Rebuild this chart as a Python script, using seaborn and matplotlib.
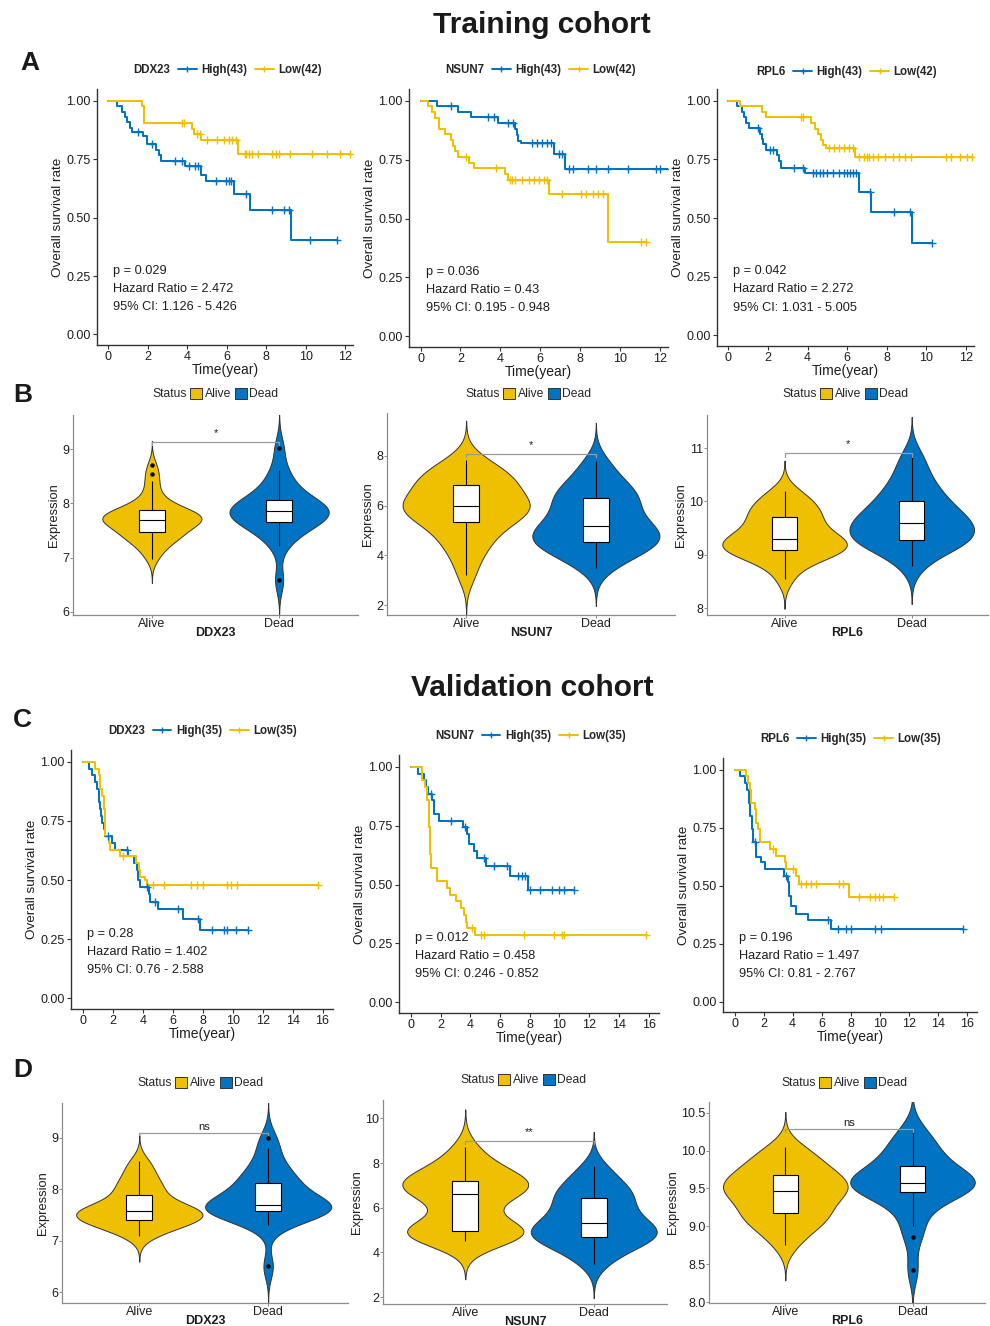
import numpy as np
import pandas as pd
import matplotlib
matplotlib.use("Agg")
import matplotlib.pyplot as plt
import seaborn as sns
from matplotlib.lines import Line2D
from matplotlib.patches import Patch

# ---------------- DATA ----------------
genes = ["DDX23", "NSUN7", "RPL6"]
train_n = (43, 42)
valid_n = (35, 35)

# Training cohort KM (event times, survival after event, censor times)
A_DDX23_hi_t = [0.42, 0.67, 0.84, 0.95, 1.09, 1.2, 1.76, 1.93, 2.43, 2.57, 2.68, 3.86, 4.7, 4.95, 6.37, 7.16, 9.26]
A_DDX23_hi_s = [0.977, 0.953, 0.93, 0.907, 0.884, 0.867, 0.85, 0.815, 0.79, 0.767, 0.744, 0.72, 0.684, 0.655, 0.603, 0.534, 0.403]
A_DDX23_hi_c = [1.5, 2.2, 3.36, 3.74, 4.1, 4.4, 4.55, 5.45, 5.95, 6.1, 6.2, 6.96, 8.3, 8.9, 9.15, 10.2, 11.6]
A_DDX23_lo_t = [1.68, 1.8, 4.24, 4.36, 4.7, 6.58]
A_DDX23_lo_s = [0.976, 0.905, 0.881, 0.857, 0.83, 0.774]
A_DDX23_lo_c = [3.74, 3.82, 4.5, 4.62, 5.0, 5.5, 5.85, 6.1, 6.25, 6.45, 6.9, 7.0, 7.15, 7.3, 7.6, 8.3, 8.5, 8.65, 9.2, 10.3, 11.1, 11.75, 12.25]

A_NSUN7_hi_t = [0.82, 1.89, 2.52, 3.88, 4.73, 4.82, 4.9, 5.04, 6.69, 7.25]
A_NSUN7_hi_s = [0.977, 0.953, 0.93, 0.905, 0.88, 0.855, 0.83, 0.82, 0.775, 0.71]
A_NSUN7_hi_c = [1.5, 3.37, 3.7, 4.4, 4.65, 5.6, 5.85, 6.1, 6.35, 6.52, 6.95, 7.1, 7.45, 7.65, 8.4, 8.8, 9.4, 10.4, 11.8, 12.0, 12.5]
A_NSUN7_lo_t = [0.39, 0.56, 0.7, 0.94, 1.24, 1.53, 1.63, 1.75, 1.89, 2.43, 2.69, 4.25, 4.4, 6.43, 9.38]
A_NSUN7_lo_s = [0.976, 0.952, 0.929, 0.881, 0.857, 0.833, 0.81, 0.786, 0.762, 0.738, 0.714, 0.69, 0.665, 0.605, 0.40]
A_NSUN7_lo_c = [2.26, 3.8, 4.5, 4.6, 4.75, 5.1, 5.45, 5.7, 5.95, 6.2, 6.35, 7.1, 8.05, 8.3, 8.65, 8.9, 9.15, 11.03, 11.3]

A_RPL6_hi_t = [0.43, 0.68, 0.8, 0.9, 1.02, 1.59, 1.68, 1.76, 1.88, 2.44, 2.56, 2.65, 3.87, 6.6, 7.22, 9.27]
A_RPL6_hi_s = [0.977, 0.953, 0.93, 0.907, 0.884, 0.86, 0.837, 0.814, 0.79, 0.767, 0.744, 0.713, 0.69, 0.61, 0.525, 0.395]
A_RPL6_hi_c = [1.48, 2.1, 2.27, 3.33, 3.75, 4.25, 4.4, 4.6, 4.75, 5.0, 5.3, 5.6, 5.85, 6.0, 6.15, 6.3, 6.45, 7.17, 8.35, 9.15, 10.3]
A_RPL6_lo_t = [0.6, 1.7, 1.88, 4.18, 4.35, 4.52, 4.66, 4.78, 4.9, 6.4]
A_RPL6_lo_s = [0.976, 0.952, 0.929, 0.905, 0.881, 0.857, 0.833, 0.81, 0.797, 0.76]
A_RPL6_lo_c = [3.67, 3.75, 5.1, 5.35, 5.6, 5.85, 6.1, 6.3, 6.6, 6.85, 7.0, 7.1, 7.3, 7.55, 7.9, 8.3, 8.6, 8.9, 9.2, 11.0, 11.25, 11.7, 12.05, 12.3]

# Validation cohort KM
C_DDX23_hi_t = [0.38, 0.6, 0.82, 0.93, 1.04, 1.1, 1.16, 1.22, 1.27, 1.38, 1.44, 1.93, 2.16, 3.0, 3.38, 3.6, 3.67, 3.78, 4.38, 4.49, 5.0, 6.67, 7.82]
C_DDX23_hi_s = [0.971, 0.943, 0.914, 0.886, 0.857, 0.829, 0.80, 0.771, 0.743, 0.714, 0.686, 0.657, 0.629, 0.60, 0.571, 0.543, 0.50, 0.471, 0.44, 0.409, 0.377, 0.335, 0.29]
C_DDX23_hi_c = [1.7, 2.93, 4.27, 4.78, 6.38, 7.7, 8.6, 9.4, 9.6, 10.2, 11.05]
C_DDX23_lo_t = [0.82, 1.04, 1.16, 1.27, 1.38, 1.49, 1.71, 1.78, 2.44, 3.56, 3.71, 3.82, 4.11, 4.27]
C_DDX23_lo_s = [0.971, 0.943, 0.886, 0.857, 0.80, 0.686, 0.657, 0.629, 0.60, 0.571, 0.543, 0.514, 0.50, 0.478]
C_DDX23_lo_c = [2.7, 4.7, 5.4, 7.2, 7.6, 8.0, 9.6, 9.9, 10.3, 15.7]

C_NSUN7_hi_t = [0.45, 0.85, 1.0, 1.16, 1.45, 1.57, 1.9, 3.53, 3.76, 3.9, 4.25, 4.47, 5.08, 6.7, 7.87]
C_NSUN7_hi_s = [0.971, 0.943, 0.914, 0.886, 0.857, 0.80, 0.771, 0.743, 0.714, 0.671, 0.643, 0.614, 0.578, 0.535, 0.478]
C_NSUN7_hi_c = [1.34, 2.7, 3.65, 4.92, 5.6, 6.5, 7.2, 7.5, 7.7, 8.0, 8.7, 9.5, 9.95, 10.3, 11.0]
C_NSUN7_lo_t = [0.78, 0.95, 1.1, 1.2, 1.28, 1.35, 1.79, 2.4, 2.6, 3.02, 3.38, 3.55, 3.69, 3.8, 4.3]
C_NSUN7_lo_s = [0.943, 0.914, 0.857, 0.743, 0.629, 0.571, 0.514, 0.486, 0.457, 0.429, 0.40, 0.371, 0.343, 0.314, 0.286]
C_NSUN7_lo_c = [4.14, 4.7, 4.9, 7.6, 9.6, 10.15, 10.3, 15.8]

C_RPL6_hi_t = [0.34, 0.69, 0.85, 0.99, 1.08, 1.17, 1.26, 1.5, 1.84, 2.07, 3.4, 3.67, 3.74, 3.86, 4.2, 5.05, 6.66]
C_RPL6_hi_s = [0.971, 0.943, 0.914, 0.857, 0.80, 0.743, 0.686, 0.625, 0.60, 0.571, 0.543, 0.514, 0.457, 0.41, 0.377, 0.35, 0.314]
C_RPL6_hi_c = [1.38, 3.56, 6.43, 7.1, 7.65, 8.0, 9.65, 10.1, 15.75]
C_RPL6_lo_t = [0.76, 0.92, 1.03, 1.15, 1.38, 1.49, 1.6, 1.72, 2.41, 2.82, 3.44, 3.56, 4.25, 4.43, 7.85]
C_RPL6_lo_s = [0.971, 0.943, 0.914, 0.857, 0.829, 0.771, 0.743, 0.686, 0.657, 0.629, 0.60, 0.571, 0.543, 0.505, 0.45]
C_RPL6_lo_c = [2.64, 4.0, 4.6, 4.95, 5.25, 5.6, 7.2, 7.45, 8.6, 9.3, 9.65, 9.95, 10.25, 11.0]

# KM statistics text
A_stats = [("0.029", "2.472", "1.126 - 5.426"), ("0.036", "0.43", "0.195 - 0.948"), ("0.042", "2.272", "1.031 - 5.005")]
C_stats = [("0.28", "1.402", "0.76 - 2.588"), ("0.012", "0.458", "0.246 - 0.852"), ("0.196", "1.497", "0.81 - 2.767")]

# Expression samples (Alive / Dead)
B_DDX23_alive = [6.98, 7.1, 7.18, 7.25, 7.3, 7.34, 7.38, 7.41, 7.43, 7.45, 7.47, 7.5, 7.54, 7.58, 7.62, 7.65, 7.67, 7.68, 7.69, 7.7,
                 7.7, 7.71, 7.72, 7.74, 7.76, 7.78, 7.8, 7.82, 7.84, 7.87, 7.88, 7.9, 7.94, 7.99, 8.06, 8.15, 8.28, 8.42, 8.55, 8.7]
B_DDX23_dead = [6.58, 7.22, 7.4, 7.5, 7.58, 7.64, 7.68, 7.72, 7.76, 7.8, 7.83, 7.86, 7.88, 7.9, 7.94, 7.98, 8.04, 8.1, 8.18, 8.3, 8.45, 8.62, 9.02]
B_NSUN7_alive = [3.2, 3.9, 4.3, 4.6, 4.9, 5.1, 5.35, 5.45, 5.6, 5.75, 5.85, 5.95, 6.0, 6.05, 6.15, 6.3, 6.5, 6.7, 6.85, 6.95, 7.05, 7.2, 7.4, 7.6, 7.85]
B_NSUN7_dead = [3.5, 3.85, 4.05, 4.2, 4.35, 4.45, 4.55, 4.65, 4.75, 4.85, 4.95, 5.08, 5.2, 5.35, 5.5, 5.7, 5.9, 6.1, 6.3, 6.4, 6.55, 6.75, 7.0, 7.35, 7.8]
B_RPL6_alive = [8.55, 8.8, 8.9, 8.97, 9.02, 9.06, 9.09, 9.12, 9.16, 9.2, 9.24, 9.27, 9.3, 9.35, 9.4, 9.47, 9.55, 9.62, 9.7, 9.76, 9.83, 9.9, 9.98, 10.08, 10.2]
B_RPL6_dead = [8.78, 9.0, 9.1, 9.18, 9.23, 9.26, 9.28, 9.33, 9.4, 9.46, 9.51, 9.56, 9.6, 9.65, 9.7, 9.76, 9.83, 9.9, 10.0, 10.08, 10.18, 10.3, 10.45, 10.65, 10.88]
D_DDX23_alive = [7.1, 7.2, 7.27, 7.32, 7.36, 7.38, 7.4, 7.44, 7.48, 7.51, 7.54, 7.56, 7.58, 7.6, 7.63, 7.67, 7.72, 7.8, 7.9, 7.98, 8.05, 8.15, 8.25, 8.4, 8.55]
D_DDX23_dead = [6.5, 7.3, 7.42, 7.5, 7.54, 7.56, 7.58, 7.61, 7.63, 7.65, 7.67, 7.69, 7.7, 7.74, 7.8, 7.9, 8.0, 8.06, 8.12, 8.2, 8.3, 8.4, 8.55, 8.8, 9.0]
D_NSUN7_alive = [4.5, 4.6, 4.7, 4.8, 4.88, 4.92, 4.95, 5.05, 5.2, 5.5, 6.0, 6.4, 6.6, 6.7, 6.8, 6.9, 7.0, 7.1, 7.2, 7.3, 7.45, 7.6, 7.85, 8.2, 8.7]
D_NSUN7_dead = [3.5, 3.9, 4.15, 4.35, 4.5, 4.62, 4.7, 4.78, 4.85, 4.95, 5.05, 5.18, 5.3, 5.45, 5.6, 5.8, 6.0, 6.2, 6.45, 6.55, 6.7, 6.9, 7.15, 7.45, 7.85]
D_RPL6_alive = [8.75, 8.9, 8.98, 9.05, 9.1, 9.15, 9.18, 9.24, 9.3, 9.36, 9.41, 9.44, 9.47, 9.5, 9.53, 9.56, 9.6, 9.64, 9.68, 9.72, 9.77, 9.83, 9.9, 9.97, 10.05]
D_RPL6_dead = [8.43, 8.86, 9.0, 9.2, 9.32, 9.4, 9.45, 9.48, 9.51, 9.53, 9.55, 9.56, 9.57, 9.59, 9.62, 9.65, 9.69, 9.74, 9.8, 9.86, 9.92, 10.0, 10.08, 10.17, 10.27]

B_sig = ["*", "*", "*"]
D_sig = ["ns", "**", "ns"]
status_labels = ["Alive", "Dead"]

# ---------------- STYLE ----------------
sns.set_theme(style="ticks")
plt.rcParams["font.family"] = ["Liberation Sans", "DejaVu Sans"]
BLUE = "#0073C2"
YEL = "#EFC000"
W, H = 990, 1326
fig = plt.figure(figsize=(W / 100, H / 100), dpi=100)
fig.patch.set_facecolor("white")
TXT = "#1e1e1e"


def add_ax(l, t, r, b):
    return fig.add_axes([l / W, 1 - b / H, (r - l) / W, (b - t) / H])


def fig_xy(x, y):
    return (x / W, 1 - y / H)


def km_panel(rect, gene, ns, hi, lo, stats, xlim, xmax_tick, leg_xy, text_x):
    ax = add_ax(*rect)
    for (t, s, c), col in ((hi, BLUE), (lo, YEL)):
        tend = max(max(c), t[-1])
        tt = np.array([0.0] + list(t) + [tend])
        ss = np.array([1.0] + list(s) + [s[-1]])
        sns.lineplot(x=tt, y=ss, drawstyle="steps-post", color=col, lw=1.45,
                     estimator=None, sort=False, ax=ax)
        c = np.array(c)
        idx = np.searchsorted(tt, c, side="right") - 1
        sns.scatterplot(x=c, y=ss[idx], marker="+", color=col, s=30,
                        linewidth=1.0, ax=ax, zorder=3)
    ax.set_xlim(*xlim)
    ax.set_ylim(-0.045, 1.05)
    ax.set_xticks(np.arange(0, xmax_tick + 1, 2))
    ax.set_yticks([0, 0.25, 0.5, 0.75, 1.0])
    ax.set_yticklabels(["0.00", "0.25", "0.50", "0.75", "1.00"])
    sns.despine(ax=ax)
    for sp in ("left", "bottom"):
        ax.spines[sp].set_color("#333333")
        ax.spines[sp].set_linewidth(1.0)
    ax.tick_params(direction="out", length=3, width=0.8, color="#333333",
                   labelsize=9, pad=1.5, labelcolor=TXT)
    ax.set_xlabel("Time(year)", fontsize=10, labelpad=-0.5, color=TXT)
    ax.set_ylabel("Overall survival rate", fontsize=9.7, labelpad=2, color=TXT)
    p, hr, ci = stats
    for i, txt in enumerate([f"p = {p}", f"Hazard Ratio = {hr}", f"95% CI: {ci}"]):
        ax.text(text_x, 0.273 - 0.077 * i, txt, fontsize=9.2, va="center", color=TXT)
    handles = [Line2D([], [], color="none", label=gene),
               Line2D([], [], color=BLUE, marker="+", ms=5, lw=1.4, label=f"High({ns[0]})"),
               Line2D([], [], color=YEL, marker="+", ms=5, lw=1.4, label=f"Low({ns[1]})")]
    ax.legend(handles=handles, loc="center", bbox_to_anchor=fig_xy(*leg_xy),
              bbox_transform=fig.transFigure, ncol=3, frameon=False,
              prop={"weight": "bold", "size": 8.3}, handlelength=1.6,
              handletextpad=0.4, columnspacing=0.7, borderaxespad=0, borderpad=0)
    return ax


def violin_panel(rect, gene, alive, dead, ylim, xlim, yticks, fmt, br_y, br_d, lab_y, sig, leg_xy, vwidth):
    ax = add_ax(*rect)
    df = pd.DataFrame({"Status": [status_labels[0]] * len(alive) + [status_labels[1]] * len(dead),
                       "Expression": list(alive) + list(dead)})
    sns.violinplot(data=df, x="Status", y="Expression", hue="Status",
                   palette={"Alive": YEL, "Dead": BLUE}, inner=None, cut=3,
                   bw_adjust=0.85, density_norm="width", width=vwidth,
                   linewidth=0.7, linecolor="#333333", saturation=1,
                   legend=False, ax=ax)
    sns.boxplot(data=df, x="Status", y="Expression", width=0.2, color="white",
                linecolor="black", linewidth=0.8, saturation=1, fliersize=2.2,
                flierprops=dict(marker="o", markerfacecolor="black", markeredgecolor="black"),
                capwidths=0, ax=ax)
    ax.plot([0, 0, 1, 1], [br_y - br_d, br_y, br_y, br_y - br_d], color="#9a9a9a", lw=0.9)
    ax.text(0.5, lab_y, sig, ha="center", va="center", fontsize=8, color=TXT)
    ax.set_ylim(*ylim)
    ax.set_xlim(*xlim)
    ax.set_yticks(yticks)
    ax.set_yticklabels([fmt.format(v) for v in yticks])
    sns.despine(ax=ax)
    for sp in ("left", "bottom"):
        ax.spines[sp].set_color("#8c8c8c")
        ax.spines[sp].set_linewidth(0.9)
    ax.tick_params(direction="out", length=2, width=0.7, color="#8c8c8c",
                   labelsize=9, pad=0.5, labelcolor=TXT)
    ax.set_xlabel(gene, fontsize=9, weight="bold", labelpad=-2.5, color=TXT)
    ax.set_ylabel("Expression", fontsize=9.3, labelpad=1.5, color=TXT)
    handles = [Patch(facecolor="none", edgecolor="none", label="Status"),
               Patch(facecolor=YEL, edgecolor="#333333", lw=0.7, label="Alive"),
               Patch(facecolor=BLUE, edgecolor="#333333", lw=0.7, label="Dead")]
    ax.legend(handles=handles, loc="center", bbox_to_anchor=fig_xy(*leg_xy),
              bbox_transform=fig.transFigure, ncol=3, frameon=False, fontsize=8.7,
              handlelength=1.0, handleheight=1.0, handletextpad=0.2,
              columnspacing=0.3, borderaxespad=0, borderpad=0)
    return ax


# ---------------- PANELS ----------------
A_curves = [((A_DDX23_hi_t, A_DDX23_hi_s, A_DDX23_hi_c), (A_DDX23_lo_t, A_DDX23_lo_s, A_DDX23_lo_c)),
            ((A_NSUN7_hi_t, A_NSUN7_hi_s, A_NSUN7_hi_c), (A_NSUN7_lo_t, A_NSUN7_lo_s, A_NSUN7_lo_c)),
            ((A_RPL6_hi_t, A_RPL6_hi_s, A_RPL6_hi_c), (A_RPL6_lo_t, A_RPL6_lo_s, A_RPL6_lo_c))]
C_curves = [((C_DDX23_hi_t, C_DDX23_hi_s, C_DDX23_hi_c), (C_DDX23_lo_t, C_DDX23_lo_s, C_DDX23_lo_c)),
            ((C_NSUN7_hi_t, C_NSUN7_hi_s, C_NSUN7_hi_c), (C_NSUN7_lo_t, C_NSUN7_lo_s, C_NSUN7_lo_c)),
            ((C_RPL6_hi_t, C_RPL6_hi_s, C_RPL6_hi_c), (C_RPL6_lo_t, C_RPL6_lo_s, C_RPL6_lo_c))]

A_rects = [(97, 89, 353, 345), (409, 89, 668, 347), (717, 89, 974, 346)]
A_leg = [(216, 70), (529, 70), (835, 72)]
C_rects = [(71, 750, 333, 1009), (399, 755, 659, 1013), (723, 758, 977, 1012)]
C_leg = [(191, 731), (519, 736), (839, 739)]

for i, g in enumerate(genes):
    km_panel(A_rects[i], g, train_n, A_curves[i][0], A_curves[i][1], A_stats[i],
             (-0.58, 12.4), 12, A_leg[i], 0.25)
    km_panel(C_rects[i], g, valid_n, C_curves[i][0], C_curves[i][1], C_stats[i],
             (-0.8, 16.7), 16, C_leg[i], 0.3)

B_data = [(B_DDX23_alive, B_DDX23_dead), (B_NSUN7_alive, B_NSUN7_dead), (B_RPL6_alive, B_RPL6_dead)]
D_data = [(D_DDX23_alive, D_DDX23_dead), (D_NSUN7_alive, D_NSUN7_dead), (D_RPL6_alive, D_RPL6_dead)]

B_cfg = [dict(rect=(73, 415, 358, 615), ylim=(5.94, 9.63), xlim=(-0.62, 1.62), yticks=[6, 7, 8, 9], fmt="{:g}",
              br_y=9.13, br_d=0.05, lab_y=9.3, leg=(208, 394), w=0.78),
         dict(rect=(387, 413, 675, 615), ylim=(1.6, 9.73), xlim=(-0.61, 1.61), yticks=[2, 4, 6, 8], fmt="{:g}",
              br_y=8.08, br_d=0.12, lab_y=8.45, leg=(521, 394), w=0.98),
         dict(rect=(707, 415, 988, 615), ylim=(7.87, 11.62), xlim=(-0.61, 1.6), yticks=[8, 9, 10, 11], fmt="{:g}",
              br_y=10.9, br_d=0.06, lab_y=11.07, leg=(838, 394), w=0.98)]
D_cfg = [dict(rect=(62, 1103, 348, 1303), ylim=(5.79, 9.68), xlim=(-0.6, 1.62), yticks=[6, 7, 8, 9], fmt="{:g}",
              br_y=9.1, br_d=0.05, lab_y=9.22, leg=(193, 1083), w=0.98),
         dict(rect=(383, 1100, 667, 1304), ylim=(1.69, 10.82), xlim=(-0.64, 1.57), yticks=[2, 4, 6, 8, 10], fmt="{:g}",
              br_y=8.97, br_d=0.12, lab_y=9.37, leg=(516, 1080), w=0.98),
         dict(rect=(709, 1102, 985, 1303), ylim=(7.99, 10.64), xlim=(-0.6, 1.57),
              yticks=[8.0, 8.5, 9.0, 9.5, 10.0, 10.5], fmt="{:.1f}",
              br_y=10.28, br_d=0.03, lab_y=10.36, leg=(837, 1083), w=0.98)]

for i, g in enumerate(genes):
    for cfg, data, sig in ((B_cfg[i], B_data[i], B_sig[i]), (D_cfg[i], D_data[i], D_sig[i])):
        violin_panel(cfg["rect"], g, data[0], data[1], cfg["ylim"], cfg["xlim"], cfg["yticks"],
                     cfg["fmt"], cfg["br_y"], cfg["br_d"], cfg["lab_y"], sig, cfg["leg"], cfg["w"])

# ---------------- TITLES / LETTERS ----------------
fig.text(*fig_xy(542, 25), "Training cohort", ha="center", va="center", fontsize=21.5, weight="bold", color="#1a1a1a")
fig.text(*fig_xy(532, 688), "Validation cohort", ha="center", va="center", fontsize=21.5, weight="bold", color="#1a1a1a")
for letter, (x, y) in zip("ABCD", [(30, 63), (23, 395), (22, 720), (23, 1070)]):
    fig.text(*fig_xy(x, y), letter, ha="center", va="center", fontsize=19, weight="bold", color="#1a1a1a")

fig.savefig("out.png", dpi=100, facecolor="white")
